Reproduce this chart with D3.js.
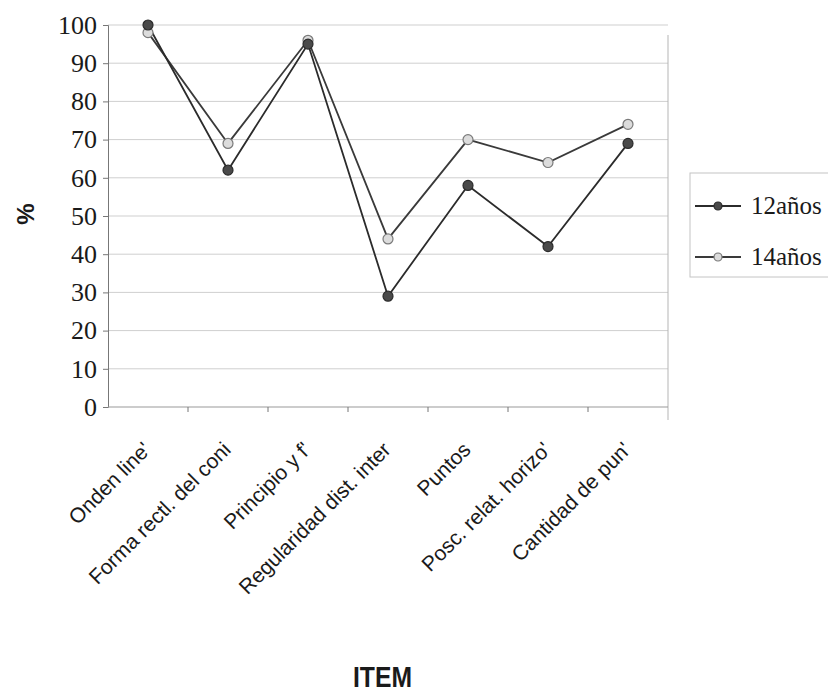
<!DOCTYPE html>
<html>
<head>
<meta charset="utf-8">
<script src="https://cdn.jsdelivr.net/npm/d3@7"></script>
<style>
  html, body { margin: 0; padding: 0; background: #ffffff; }
  svg { display: block; }
  .serif { font-family: "Liberation Serif", "DejaVu Serif", serif; }
  .sans { font-family: "Liberation Sans", Arial, sans-serif; }
</style>
</head>
<body>
<svg id="chart" width="828" height="692"></svg>
<script>
// Item categories along the x axis (labels as printed, truncated)
const categories = [
  "Onden line'",
  "Forma rectl. del coni",
  "Principio y f'",
  "Regularidad dist. inter",
  "Puntos",
  "Posc. relat. horizo'",
  "Cantidad de pun'"
];

// Percentage of correct answers per age group
const values12 = [100, 62, 95, 29, 58, 42, 69];
const values14 = [98, 69, 96, 44, 70, 64, 74];

const seriesNames = ["12años", "14años"];
const yTicks = [0, 10, 20, 30, 40, 50, 60, 70, 80, 90, 100];

const svg = d3.select("#chart");

const plot = { left: 108, right: 668, top: 25, bottom: 407 };

const x = d3.scaleBand()
  .domain(categories)
  .range([plot.left, plot.right])
  .paddingInner(0)
  .paddingOuter(0);

const y = d3.scaleLinear()
  .domain([0, 100])
  .range([plot.bottom, plot.top]);

// Horizontal gridlines
svg.append("g")
  .selectAll("line")
  .data(yTicks.filter(d => d > 0))
  .join("line")
  .attr("x1", plot.left)
  .attr("x2", plot.right)
  .attr("y1", d => y(d))
  .attr("y2", d => y(d))
  .attr("stroke", "#cfcfcf")
  .attr("stroke-width", 1);

// Right border of plot area
svg.append("line")
  .attr("x1", plot.right).attr("x2", plot.right)
  .attr("y1", plot.top + 10).attr("y2", plot.bottom + 13)
  .attr("stroke", "#b5b5b5")
  .attr("stroke-width", 1);

// Y axis
const yAxis = d3.axisLeft(y)
  .tickValues(yTicks)
  .tickSize(5)
  .tickPadding(6);

const gy = svg.append("g")
  .attr("transform", `translate(${plot.left},0)`)
  .call(yAxis)
  .attr("font-family", null)
  .attr("font-size", null);
gy.select(".domain").attr("stroke", "#777").attr("stroke-width", 1);
gy.selectAll(".tick line").attr("stroke", "#777");
gy.selectAll(".tick text")
  .attr("class", "serif")
  .style("font-size", "26px")
  .attr("fill", "#1a1a1a");

// X axis baseline with ticks on category boundaries
const gx = svg.append("g");
gx.append("line")
  .attr("x1", plot.left).attr("x2", plot.right)
  .attr("y1", plot.bottom).attr("y2", plot.bottom)
  .attr("stroke", "#999").attr("stroke-width", 1);
gx.selectAll("line.tick")
  .data(categories.slice(1))
  .join("line")
  .attr("class", "tick")
  .attr("x1", d => x(d)).attr("x2", d => x(d))
  .attr("y1", plot.bottom).attr("y2", plot.bottom + 5)
  .attr("stroke", "#777");

// Rotated category labels
gx.selectAll("text")
  .data(categories)
  .join("text")
  .attr("class", "sans")
  .attr("transform", d => `translate(${x(d) + x.bandwidth() / 2 + 4},${plot.bottom + 44}) rotate(-45)`)
  .attr("text-anchor", "end")
  .style("font-size", "21px")
  .attr("fill", "#1a1a1a")
  .text(d => d);

// Series lines and markers
const cx = d => x(d) + x.bandwidth() / 2;
const series = [
  { name: seriesNames[0], values: values12, line: "#2b2b2b", fill: "#4a4a4a", stroke: "#2b2b2b" },
  { name: seriesNames[1], values: values14, line: "#3a3a3a", fill: "#dcdcdc", stroke: "#7a7a7a" }
];

const lineGen = d3.line()
  .x(d => cx(d.cat))
  .y(d => y(d.v));

series.slice().reverse().forEach(s => {
  const pts = categories.map((c, i) => ({ cat: c, v: s.values[i] }));
  svg.append("path")
    .datum(pts)
    .attr("d", lineGen)
    .attr("fill", "none")
    .attr("stroke", s.line)
    .attr("stroke-width", 1.8);
});
series.slice().reverse().forEach(s => {
  const pts = categories.map((c, i) => ({ cat: c, v: s.values[i] }));
  svg.append("g")
    .selectAll("circle")
    .data(pts)
    .join("circle")
    .attr("cx", d => cx(d.cat))
    .attr("cy", d => y(d.v))
    .attr("r", 5)
    .attr("fill", s.fill)
    .attr("stroke", s.stroke)
    .attr("stroke-width", 1.2);
});

// Axis titles
svg.append("text")
  .attr("class", "sans")
  .attr("transform", "translate(34,214) rotate(-90)")
  .attr("text-anchor", "middle")
  .style("font-weight", "bold")
  .style("font-size", "24px")
  .attr("fill", "#1a1a1a")
  .text("%");

svg.append("text")
  .attr("class", "sans")
  .attr("x", 353)
  .attr("y", 687)
  .style("font-weight", "bold")
  .style("font-size", "30px")
  .attr("textLength", 59)
  .attr("lengthAdjust", "spacingAndGlyphs")
  .attr("fill", "#1a1a1a")
  .text("ITEM");

// Legend
const legend = svg.append("g");
legend.append("rect")
  .attr("x", 690).attr("y", 173)
  .attr("width", 200).attr("height", 104)
  .attr("fill", "none")
  .attr("stroke", "#c4c4c4")
  .attr("stroke-width", 1);

const legendY = d3.scalePoint()
  .domain(seriesNames)
  .range([206, 257]);

series.forEach(s => {
  const ly = legendY(s.name);
  legend.append("line")
    .attr("x1", 695).attr("x2", 741)
    .attr("y1", ly).attr("y2", ly)
    .attr("stroke", s.line).attr("stroke-width", 1.8);
  legend.append("circle")
    .attr("cx", 718).attr("cy", ly).attr("r", 4)
    .attr("fill", s.fill).attr("stroke", s.stroke).attr("stroke-width", 1.2);
  legend.append("text")
    .attr("class", "serif")
    .attr("x", 751).attr("y", ly + 8)
    .style("font-size", "25px")
    .attr("fill", "#1a1a1a")
    .text(s.name);
});
</script>
</body>
</html>
